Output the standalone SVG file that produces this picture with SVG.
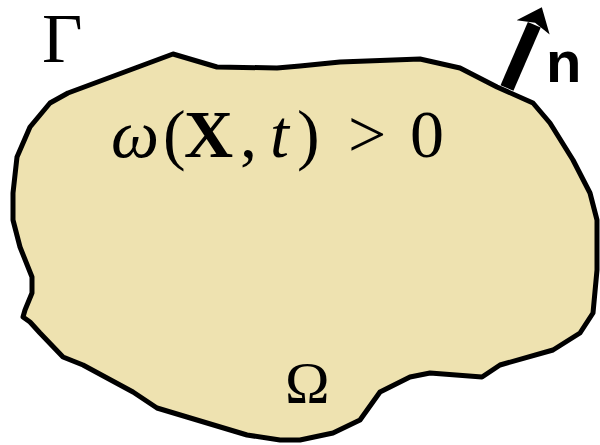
<svg xmlns="http://www.w3.org/2000/svg" width="600" height="445" viewBox="0 0 600 445">
  <style>
    .serif { font-family: "Liberation Serif", "Times New Roman", serif; fill: #000; }
    .sans { font-family: "Liberation Sans", Arial, sans-serif; font-weight: bold; fill: #000; }
    .outline { fill: #EEE2B0; stroke: #000; stroke-width: 5; stroke-linejoin: round; }
  </style>
  <defs>
    <marker id="head" viewBox="0 0 22 38" markerWidth="22" markerHeight="38" markerUnits="userSpaceOnUse" refX="3" refY="19" orient="auto">
      <path d="M0,1 L22,19 L0,37 L5,19 Z" fill="#000"/>
    </marker>
  </defs>
  <rect width="600" height="445" fill="#fff"/>
  <g id="domain">
    <path class="outline" d="M173,54 L217,67 L277,68 L300,66 L340,62 L420,59 L460,68 L497,87 L533,103 L550,123 L573,160 L590,193 L597,220 L597,270 L593,313 L580,333 L553,350 L500,365 L482,377 L430,373 L410,377 L380,392 L360,420 L333,433 L300,440 L280,440 L247,435 L187,417 L157,408 L133,392 L83,365 L63,357 L40,333 L30,322 L23,317 L25,310 L32,293 L32,277 L20,247 L13,220 L13,193 L17,157 L30,127 L50,103 L68,93 Z"/>
  </g>
  <g id="normal">
    <line x1="507" y1="88" x2="534.3" y2="24.7" stroke="#000" stroke-width="14" marker-end="url(#head)"/>
    <text class="sans" x="546" y="82" font-size="58">n</text>
  </g>
  <g id="labels">
    <text class="serif" x="42" y="62" font-size="70">Γ</text>
    <text class="serif" y="157" font-size="68"><tspan x="111" font-style="italic">ω</tspan><tspan x="163">(</tspan><tspan x="184" font-weight="bold">X</tspan><tspan x="240">,</tspan><tspan x="270" font-style="italic">t</tspan><tspan x="297">)</tspan><tspan x="348">&gt;</tspan><tspan x="410">0</tspan></text>
    <text class="serif" x="285" y="403" font-size="60">Ω</text>
  </g>
</svg>
